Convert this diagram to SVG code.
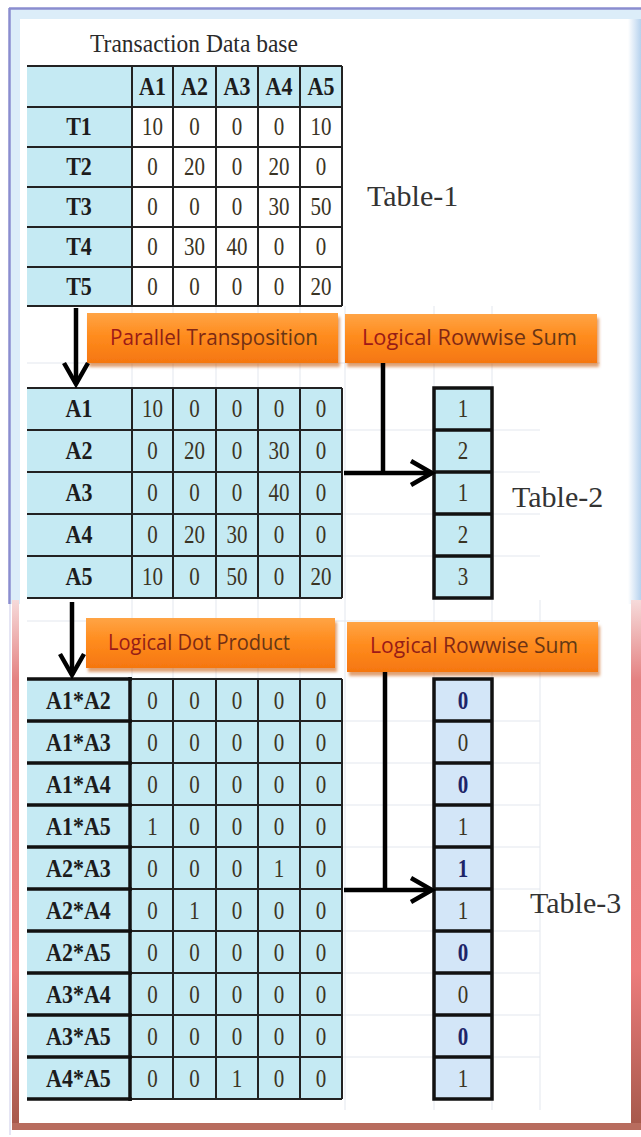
<svg xmlns="http://www.w3.org/2000/svg" width="641" height="1137" viewBox="0 0 641 1137">
  <style>
    .hd { font-family: "Liberation Serif", "Times New Roman", serif; font-weight: bold; font-size: 22px; fill: #1c1c1c; text-anchor: middle; transform-box: fill-box; transform-origin: center; transform: scaleY(1.12); }
    .vl { font-family: "Liberation Serif", "Times New Roman", serif; font-size: 21px; fill: #3a3424; text-anchor: middle; transform-box: fill-box; transform-origin: center; transform: scaleY(1.15); }
    .cap { font-family: "Liberation Serif", "Times New Roman", serif; font-size: 30px; fill: #333; }
    .ttl { font-family: "Liberation Serif", "Times New Roman", serif; font-size: 23.5px; fill: #2a2a2a; text-anchor: middle; transform-box: fill-box; transform-origin: center; transform: scaleY(1.1); }
    .op { font-family: "Open Sans", "Liberation Sans", sans-serif; font-size: 21px; fill: url(#opText); transform-box: fill-box; transform-origin: center; transform: scaleY(1.05); }
    .opbox { fill: url(#orange); filter: url(#shadow); }
    .g { stroke: #222; stroke-width: 2; fill: none; }
    .gk { stroke: #111; stroke-width: 3.5; fill: none; }
    .bg { stroke: #e3e7ee; stroke-width: 1; fill: none; }
    .cn { stroke: #000; stroke-width: 4.5; fill: none; }
    .blue { fill: #c5eaf3; }
    .bold0 { font-weight: bold; fill: #1d2468; }
  </style>
  <defs>
    <linearGradient id="orange" x1="0" y1="0" x2="0" y2="1">
      <stop offset="0" stop-color="#ffa445"/>
      <stop offset="0.45" stop-color="#ff8c1e"/>
      <stop offset="1" stop-color="#f57610"/>
    </linearGradient>
    <linearGradient id="opText" x1="0" y1="0" x2="1" y2="0">
      <stop offset="0" stop-color="#a01818"/>
      <stop offset="0.5" stop-color="#7a2a14"/>
      <stop offset="1" stop-color="#5e3a14"/>
    </linearGradient>
    <filter id="shadow" x="-10%" y="-20%" width="125%" height="160%">
      <feDropShadow dx="2" dy="4" stdDeviation="1.5" flood-color="#c65200" flood-opacity="0.55"/>
    </filter>
    <linearGradient id="redEdge" x1="0" y1="0" x2="0" y2="1">
      <stop offset="0" stop-color="#f6dada"/>
      <stop offset="0.15" stop-color="#e48282"/>
      <stop offset="0.7" stop-color="#ec7c7c"/>
      <stop offset="1" stop-color="#a4584a"/>
    </linearGradient>
    <linearGradient id="blueBand" x1="0" y1="0" x2="1" y2="0">
      <stop offset="0" stop-color="#ffffff"/>
      <stop offset="1" stop-color="#b6d2ee"/>
    </linearGradient>
    <marker id="chev" markerUnits="userSpaceOnUse" viewBox="-28 -16 32 32" refX="0" refY="0" markerWidth="32" markerHeight="32" orient="auto">
      <path d="M-21,-12 L0,0 L-21,12" fill="none" stroke="#000" stroke-width="4.5" stroke-linejoin="miter"/>
    </marker>
  </defs>

  <!-- page background and frames -->
  <rect width="641" height="1137" fill="#fff"/>
  <g id="frame-top">
    <rect x="10" y="9" width="631" height="595" fill="#dcedf9"/>
    <rect x="20" y="19" width="608" height="585" fill="#fff"/>
    <rect x="628" y="19" width="13" height="585" fill="url(#blueBand)"/>
    <path d="M9,8.5 H641 M9.5,8 V604" stroke="#8a8dcf" stroke-width="2.5" fill="none"/>
  </g>
  <g id="frame-bottom">
    <rect x="12" y="600" width="7" height="530" fill="url(#redEdge)"/>
    <rect x="631" y="600" width="10" height="530" fill="url(#redEdge)"/>
    <rect x="12" y="1123" width="629" height="7" fill="#b86c5e"/>
    <path d="M10,604 V1135" stroke="#dcdcf0" stroke-width="1.5"/>
  </g>

  <!-- faint spreadsheet grid behind the tables -->
  <g id="grid">
    <path class="bg" d="M132,306 V388 M173,306 V388 M216,306 V388 M258,306 V388 M300,306 V388 M345,306 V1110 M434,306 V1110 M492,306 V1110 M540,600 V1110"/>
    <path class="bg" d="M132,598 V679 M173,598 V679 M216,598 V679 M258,598 V679 M300,598 V679"/>
    <path class="bg" d="M27,363 H600 M342,430 H540 M342,472 H540 M342,514 H540 M342,556 H540 M27,621 H600 M342,721 H540 M342,763 H540 M342,805 H540 M342,847 H540 M342,889 H540 M342,931 H540 M342,973 H540 M342,1015 H540 M342,1057 H540"/>
  </g>

  <!-- Table-1: transaction database -->
  <g id="table1">
    <text class="ttl" x="194" y="51">Transaction Data base</text>
    <rect class="blue" x="27" y="66" width="315" height="41"/>
    <rect class="blue" x="27" y="107" width="105" height="199"/>
    <path class="g" d="M27,66 H342 M27,107 H342 M27,147 H342 M27,187 H342 M27,227 H342 M27,267 H342 M27,306 H342 M132,66 V306 M173,66 V306 M216,66 V306 M258,66 V306 M300,66 V306 M342,66 V306"/>
    <text class="hd" y="94"><tspan x="152.5">A1</tspan><tspan x="194.5">A2</tspan><tspan x="237">A3</tspan><tspan x="279">A4</tspan><tspan x="321">A5</tspan></text>
    <text class="hd" x="79" y="134">T1</text>
    <text class="hd" x="79" y="174">T2</text>
    <text class="hd" x="79" y="214">T3</text>
    <text class="hd" x="79" y="254">T4</text>
    <text class="hd" x="79" y="294">T5</text>
    <text class="vl" y="134"><tspan x="152.5">10</tspan><tspan x="194.5">0</tspan><tspan x="237">0</tspan><tspan x="279">0</tspan><tspan x="321">10</tspan></text>
    <text class="vl" y="174"><tspan x="152.5">0</tspan><tspan x="194.5">20</tspan><tspan x="237">0</tspan><tspan x="279">20</tspan><tspan x="321">0</tspan></text>
    <text class="vl" y="214"><tspan x="152.5">0</tspan><tspan x="194.5">0</tspan><tspan x="237">0</tspan><tspan x="279">30</tspan><tspan x="321">50</tspan></text>
    <text class="vl" y="254"><tspan x="152.5">0</tspan><tspan x="194.5">30</tspan><tspan x="237">40</tspan><tspan x="279">0</tspan><tspan x="321">0</tspan></text>
    <text class="vl" y="294"><tspan x="152.5">0</tspan><tspan x="194.5">0</tspan><tspan x="237">0</tspan><tspan x="279">0</tspan><tspan x="321">20</tspan></text>
    <text class="cap" x="367" y="206">Table-1</text>
  </g>

  <!-- operation labels -->
  <g id="op-transpose">
    <rect class="opbox" x="87" y="313" width="251" height="50"/>
    <text class="op" x="110" y="345" textLength="208" lengthAdjust="spacingAndGlyphs">Parallel Transposition</text>
  </g>
  <g id="op-rowsum-1">
    <rect class="opbox" x="345" y="314" width="252" height="49"/>
    <text class="op" x="362" y="345" textLength="215" lengthAdjust="spacingAndGlyphs">Logical Rowwise Sum</text>
  </g>
  <g id="op-dot">
    <rect class="opbox" x="86" y="618" width="249" height="50"/>
    <text class="op" x="108" y="650" textLength="182" lengthAdjust="spacingAndGlyphs">Logical Dot Product</text>
  </g>
  <g id="op-rowsum-2">
    <rect class="opbox" x="347" y="622" width="251" height="50"/>
    <text class="op" x="370" y="653" textLength="208" lengthAdjust="spacingAndGlyphs">Logical Rowwise Sum</text>
  </g>

  <!-- Table-2: transposed matrix -->
  <g id="table2">
    <rect class="blue" x="27" y="388" width="315" height="210"/>
    <path class="g" d="M27,388 H342 M27,430 H342 M27,472 H342 M27,514 H342 M27,556 H342 M27,598 H342 M132,388 V598 M173,388 V598 M216,388 V598 M258,388 V598 M300,388 V598 M342,388 V598"/>
    <text class="hd" x="79" y="416">A1</text>
    <text class="hd" x="79" y="458">A2</text>
    <text class="hd" x="79" y="500">A3</text>
    <text class="hd" x="79" y="542">A4</text>
    <text class="hd" x="79" y="584">A5</text>
    <text class="vl" y="416"><tspan x="152.5">10</tspan><tspan x="194.5">0</tspan><tspan x="237">0</tspan><tspan x="279">0</tspan><tspan x="321">0</tspan></text>
    <text class="vl" y="458"><tspan x="152.5">0</tspan><tspan x="194.5">20</tspan><tspan x="237">0</tspan><tspan x="279">30</tspan><tspan x="321">0</tspan></text>
    <text class="vl" y="500"><tspan x="152.5">0</tspan><tspan x="194.5">0</tspan><tspan x="237">0</tspan><tspan x="279">40</tspan><tspan x="321">0</tspan></text>
    <text class="vl" y="542"><tspan x="152.5">0</tspan><tspan x="194.5">20</tspan><tspan x="237">30</tspan><tspan x="279">0</tspan><tspan x="321">0</tspan></text>
    <text class="vl" y="584"><tspan x="152.5">10</tspan><tspan x="194.5">0</tspan><tspan x="237">50</tspan><tspan x="279">0</tspan><tspan x="321">20</tspan></text>
  </g>
  <g id="table2-sum">
    <rect class="gk" x="434" y="388" width="58" height="210" style="fill:#c5eaf3"/>
    <path class="gk" d="M434,430 H492 M434,472 H492 M434,514 H492 M434,556 H492"/>
    <text class="vl" x="463" y="416">1</text>
    <text class="vl" x="463" y="458">2</text>
    <text class="vl" x="463" y="500">1</text>
    <text class="vl" x="463" y="542">2</text>
    <text class="vl" x="463" y="584">3</text>
    <text class="cap" x="512" y="507">Table-2</text>
  </g>

  <!-- Table-3: pairwise logical dot products -->
  <g id="table3">
    <rect class="blue" x="27" y="679" width="315" height="420"/>
    <path class="g" d="M130,721 H342 M130,763 H342 M130,805 H342 M130,847 H342 M130,889 H342 M130,931 H342 M130,973 H342 M130,1015 H342 M130,1057 H342 M130,679 H342 M130,1099 H342 M173,679 V1099 M216,679 V1099 M258,679 V1099 M300,679 V1099 M342,679 V1099"/>
    <path class="gk" d="M27,679 H132 M27,721 H132 M27,763 H132 M27,805 H132 M27,847 H132 M27,889 H132 M27,931 H132 M27,973 H132 M27,1015 H132 M27,1057 H132 M27,1099 H132 M130,677 V1101"/>
    <text class="hd" x="78.5" y="708">A1*A2</text>
    <text class="hd" x="78.5" y="750">A1*A3</text>
    <text class="hd" x="78.5" y="792">A1*A4</text>
    <text class="hd" x="78.5" y="834">A1*A5</text>
    <text class="hd" x="78.5" y="876">A2*A3</text>
    <text class="hd" x="78.5" y="918">A2*A4</text>
    <text class="hd" x="78.5" y="960">A2*A5</text>
    <text class="hd" x="78.5" y="1002">A3*A4</text>
    <text class="hd" x="78.5" y="1044">A3*A5</text>
    <text class="hd" x="78.5" y="1086">A4*A5</text>
    <text class="vl" y="708"><tspan x="152.5">0</tspan><tspan x="194.5">0</tspan><tspan x="237">0</tspan><tspan x="279">0</tspan><tspan x="321">0</tspan></text>
    <text class="vl" y="750"><tspan x="152.5">0</tspan><tspan x="194.5">0</tspan><tspan x="237">0</tspan><tspan x="279">0</tspan><tspan x="321">0</tspan></text>
    <text class="vl" y="792"><tspan x="152.5">0</tspan><tspan x="194.5">0</tspan><tspan x="237">0</tspan><tspan x="279">0</tspan><tspan x="321">0</tspan></text>
    <text class="vl" y="834"><tspan x="152.5">1</tspan><tspan x="194.5">0</tspan><tspan x="237">0</tspan><tspan x="279">0</tspan><tspan x="321">0</tspan></text>
    <text class="vl" y="876"><tspan x="152.5">0</tspan><tspan x="194.5">0</tspan><tspan x="237">0</tspan><tspan x="279">1</tspan><tspan x="321">0</tspan></text>
    <text class="vl" y="918"><tspan x="152.5">0</tspan><tspan x="194.5">1</tspan><tspan x="237">0</tspan><tspan x="279">0</tspan><tspan x="321">0</tspan></text>
    <text class="vl" y="960"><tspan x="152.5">0</tspan><tspan x="194.5">0</tspan><tspan x="237">0</tspan><tspan x="279">0</tspan><tspan x="321">0</tspan></text>
    <text class="vl" y="1002"><tspan x="152.5">0</tspan><tspan x="194.5">0</tspan><tspan x="237">0</tspan><tspan x="279">0</tspan><tspan x="321">0</tspan></text>
    <text class="vl" y="1044"><tspan x="152.5">0</tspan><tspan x="194.5">0</tspan><tspan x="237">0</tspan><tspan x="279">0</tspan><tspan x="321">0</tspan></text>
    <text class="vl" y="1086"><tspan x="152.5">0</tspan><tspan x="194.5">0</tspan><tspan x="237">1</tspan><tspan x="279">0</tspan><tspan x="321">0</tspan></text>
  </g>
  <g id="table3-sum">
    <rect class="gk" x="434" y="679" width="58" height="420" style="fill:#d3e6f8"/>
    <path class="gk" d="M434,721 H492 M434,763 H492 M434,805 H492 M434,847 H492 M434,889 H492 M434,931 H492 M434,973 H492 M434,1015 H492 M434,1057 H492"/>
    <text class="vl bold0" x="463" y="708">0</text>
    <text class="vl" x="463" y="750">0</text>
    <text class="vl bold0" x="463" y="792">0</text>
    <text class="vl" x="463" y="834">1</text>
    <text class="vl bold0" x="463" y="876">1</text>
    <text class="vl" x="463" y="918">1</text>
    <text class="vl bold0" x="463" y="960">0</text>
    <text class="vl" x="463" y="1002">0</text>
    <text class="vl bold0" x="463" y="1044">0</text>
    <text class="vl" x="463" y="1086">1</text>
    <text class="cap" x="530" y="913">Table-3</text>
  </g>

  <!-- connectors -->
  <g id="connectors">
    <path class="cn" d="M76,308 V384" marker-end="url(#chev)"/>
    <path class="cn" d="M72,602 V675" marker-end="url(#chev)"/>
    <path class="cn" d="M383,363 V475"/>
    <path class="cn" d="M344,473 H432" marker-end="url(#chev)"/>
    <path class="cn" d="M385,672 V892"/>
    <path class="cn" d="M344,890 H432" marker-end="url(#chev)"/>
  </g>
</svg>
